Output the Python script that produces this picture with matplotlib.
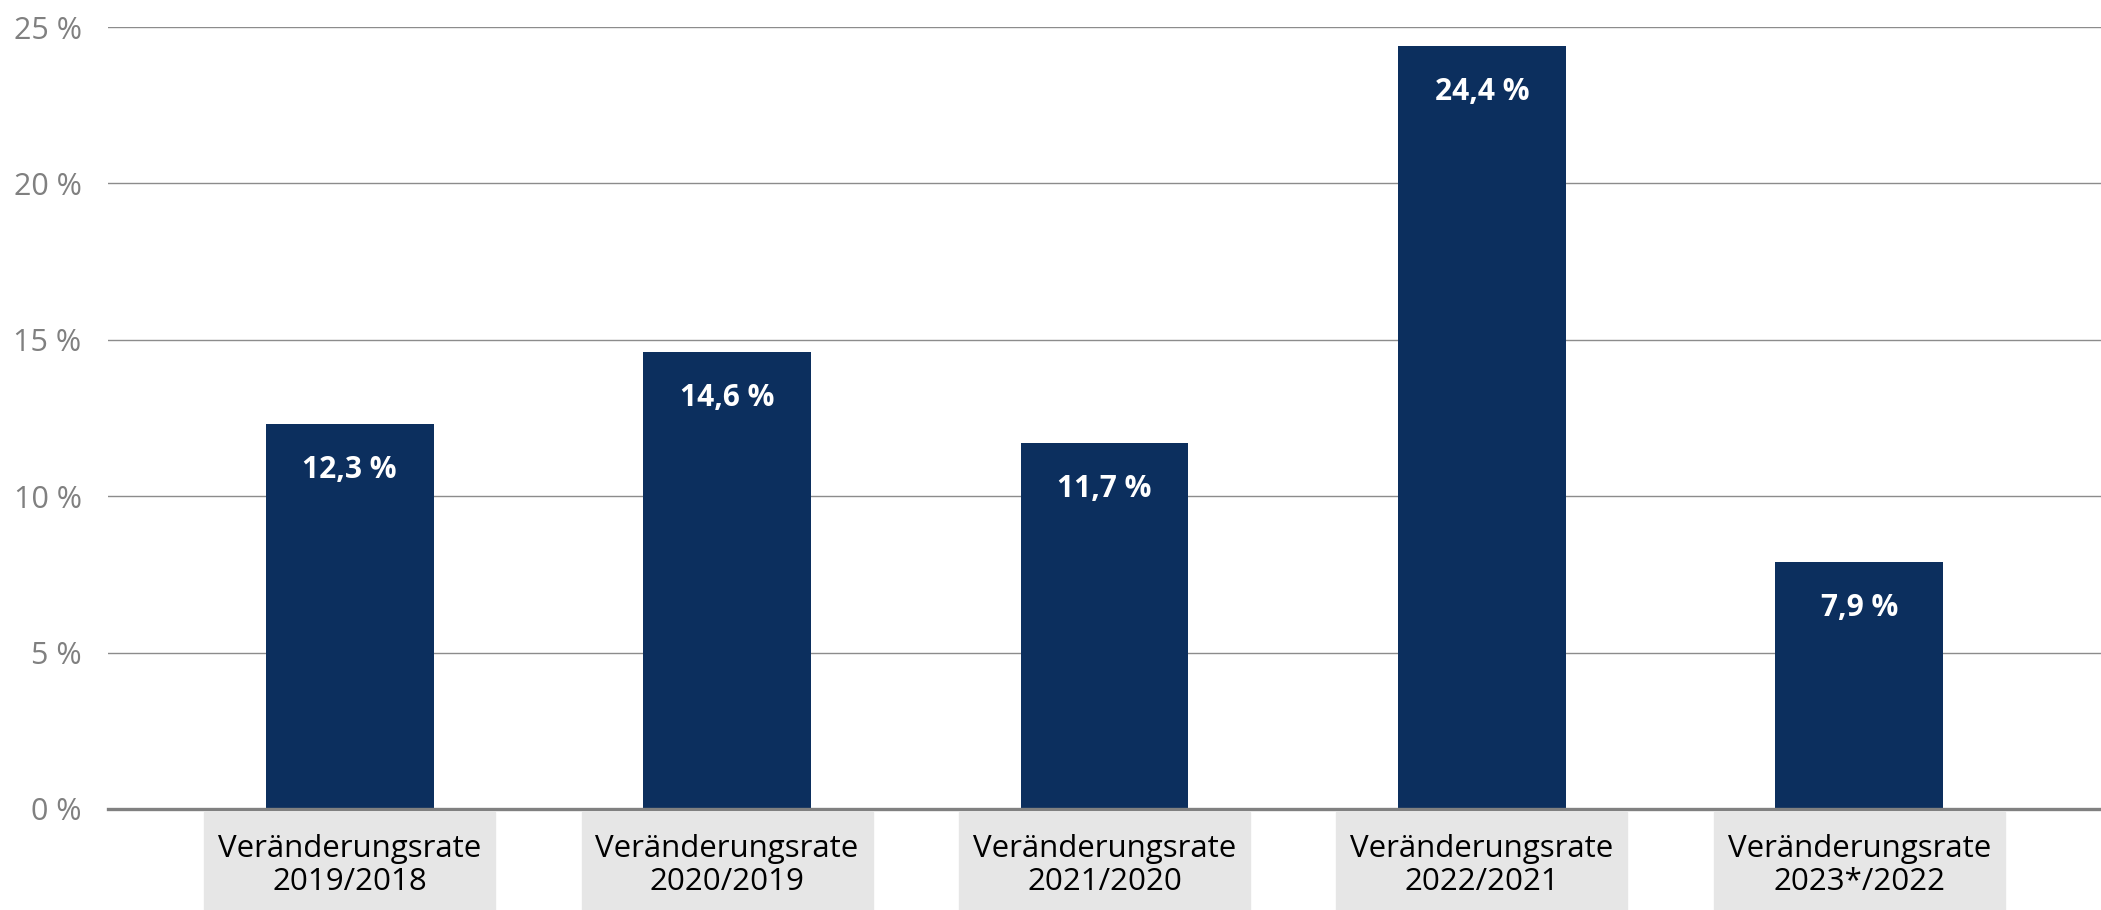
import matplotlib
matplotlib.use("Agg")
import matplotlib.pyplot as plt
from matplotlib.patches import Rectangle
from matplotlib.transforms import blended_transform_factory

plt.rcParams['font.family'] = ['Open Sans', 'DejaVu Sans']

# data
categories = ["Veränderungsrate\n2019/2018", "Veränderungsrate\n2020/2019",
              "Veränderungsrate\n2021/2020", "Veränderungsrate\n2022/2021",
              "Veränderungsrate\n2023*/2022"]
values = [12.3, 14.6, 11.7, 24.4, 7.9]
value_labels = ["12,3 %", "14,6 %", "11,7 %", "24,4 %", "7,9 %"]
y_ticks = [0, 5, 10, 15, 20, 25]
y_tick_labels = ["0 %", "5 %", "10 %", "15 %", "20 %", "25 %"]

bar_color = "#0c2f5e"
grid_color = "#8c8c8c"

fig = plt.figure(figsize=(21.01, 9.10), dpi=100)
ax = fig.add_axes([0.0514, 0.111, 0.9486, 0.8593])

x = list(range(len(values)))
ax.bar(x, values, width=0.445, color=bar_color, zorder=2)

for xi, v, lab in zip(x, values, value_labels):
    ax.annotate(lab, (xi, v), xytext=(0, -33), textcoords="offset points",
                ha="center", va="center", color="white",
                fontsize=21.5, fontweight="bold", zorder=3)

ax.set_xlim(-0.64, len(values) - 1 + 0.64)
ax.set_ylim(0, 25)
ax.set_yticks(y_ticks)
ax.set_yticklabels(y_tick_labels)
ax.tick_params(axis="y", length=0, pad=19, labelsize=22, labelcolor="#808080")
ax.set_xticks([])

ax.yaxis.grid(True, color=grid_color, linewidth=1.0)
ax.set_axisbelow(True)
for side in ["top", "right", "left"]:
    ax.spines[side].set_visible(False)
ax.spines["bottom"].set_color("#808080")
ax.spines["bottom"].set_linewidth(2.4)
ax.spines["bottom"].set_zorder(4)

# category labels in grey boxes
trans = blended_transform_factory(ax.transData, fig.transFigure)
box_w = 0.771
for xi, cat in zip(x, categories):
    ax.add_patch(Rectangle((xi - box_w / 2, 0.0), box_w, 0.1077,
                           transform=trans, color="#e6e6e6", clip_on=False, zorder=1))
    ax.text(xi, 0.049, cat, transform=trans, ha="center", va="center",
            fontsize=22.5, color="black", linespacing=1.12, clip_on=False, zorder=2)

fig.savefig("out.png", dpi=100)
